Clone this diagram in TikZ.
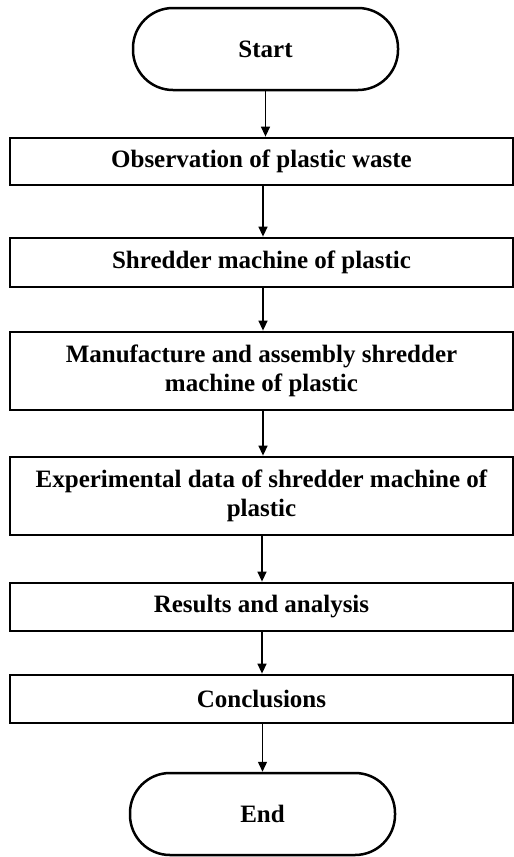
\documentclass[tikz,border=0pt]{standalone}
\usepackage{fontspec}
\setmainfont{Liberation Serif}
\usetikzlibrary{arrows.meta}
\begin{document}
\begin{tikzpicture}[x=1pt,y=-1pt,
  txt/.style={font=\fontsize{25}{29}\selectfont\bfseries, align=center, inner sep=0pt},
  stepbox/.style={txt, draw, line width=2.8pt, minimum width=503pt},
  term/.style={txt, draw, line width=2.5pt, minimum width=265pt, minimum height=82pt, rounded corners=40pt},
  arr/.style={line width=1.4pt, -{Triangle[width=9pt,length=10pt]}}]
\useasboundingbox (0,0) rectangle (514,857);
\node[term] (start) at (265.5,49) {Start};
\node[stepbox, minimum height=47pt] (obs) at (261.5,161.5) {Observation of plastic waste};
\node[stepbox, minimum height=49pt] (shr) at (261.5,262.5) {Shredder machine of plastic};
\node[stepbox, minimum height=78pt] (man) at (261.5,371) {Manufacture and assembly shredder\\machine of plastic};
\node[stepbox, minimum height=78pt] (exp) at (261.5,496) {Experimental data of shredder machine of\\plastic};
\node[stepbox, minimum height=48pt] (res) at (261.5,607) {Results and analysis};
\node[stepbox, minimum height=48pt] (con) at (261.5,699) {Conclusions};
\node[term] (end) at (262.5,814) {End};
\draw[arr] (start.south) -- (start.south |- obs.north);
\draw[arr] ([xshift=1.5pt]obs.south) -- ([xshift=1.5pt]shr.north);
\draw[arr] ([xshift=1.5pt]shr.south) -- ([xshift=1.5pt]man.north);
\draw[arr] ([xshift=1.5pt]man.south) -- ([xshift=1.5pt]exp.north);
\draw[arr] ([xshift=0.5pt]exp.south) -- ([xshift=0.5pt]res.north);
\draw[arr] ([xshift=0.5pt]res.south) -- ([xshift=0.5pt]con.north);
\draw[arr] (con.south -| end.north) -- (end.north);
\end{tikzpicture}
\end{document}
